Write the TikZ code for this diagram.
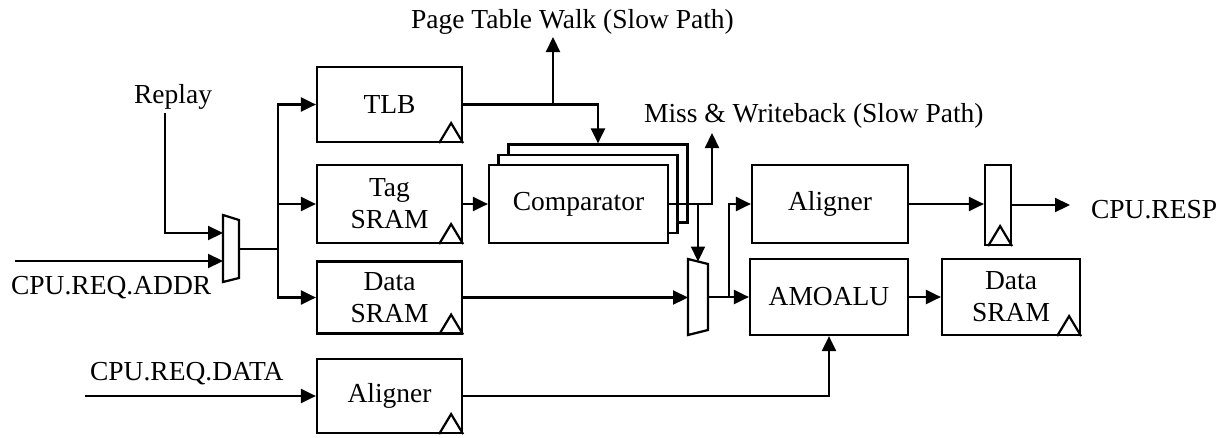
\documentclass[tikz,border=0pt]{standalone}
\usepackage{fontspec}
\setmainfont{Liberation Serif}
\usetikzlibrary{arrows.meta}
\begin{document}
\begin{tikzpicture}[x=1pt,y=-1pt,line width=2.2pt,
  font=\fontsize{27.5}{32}\selectfont,
  blk/.style={draw,rectangle,inner sep=0pt,align=center,fill=white},
  arr/.style={-{Triangle[length=15pt,width=14pt]}},
  lbl/.style={anchor=base west,inner sep=0pt}]
\useasboundingbox (0,0) rectangle (1227,437);

% clock marker in the lower right corner of a block
\newcommand\clockmark[1]{\draw[shift={(#1.south east)}] (-24,0) -- (-12,-20) -- (0,0);}

% --- blocks ---
\node[blk,minimum width=145pt,minimum height=75pt] (tlb) at (389.5,104.5) {TLB};
\node[blk,minimum width=145pt,minimum height=78pt] (tag) at (389.5,204) {Tag\\SRAM};
\node[blk,minimum width=145pt,minimum height=72pt] (dsram) at (389.5,297.5) {Data\\SRAM};
\node[blk,minimum width=145pt,minimum height=74pt] (alnin) at (389.5,396) {Aligner};

\node[blk,minimum width=179pt,minimum height=78pt] (cmp3) at (598,183.5) {};
\node[blk,minimum width=179pt,minimum height=78pt] (cmp2) at (588,194) {};
\node[blk,minimum width=179pt,minimum height=78pt] (cmp1) at (578.5,204) {Comparator};

\node[blk,minimum width=156pt,minimum height=78pt] (alnout) at (830,204) {Aligner};
\node[blk,minimum width=26pt,minimum height=80pt] (reg) at (998,205) {};
\node[blk,minimum width=158pt,minimum height=76pt] (amo) at (829,297) {AMOALU};
\node[blk,minimum width=138pt,minimum height=76pt] (dsram2) at (1011,297) {Data\\SRAM};

\clockmark{tlb}
\clockmark{tag}
\clockmark{dsram}
\clockmark{alnin}
\clockmark{dsram2}
\clockmark{reg}

% --- multiplexers ---
\draw (223,215) -- (239,220) -- (239,278) -- (223,282) -- cycle;
\coordinate (m1a) at (223,233);
\coordinate (m1b) at (223,261);
\coordinate (m1o) at (239,249);
\coordinate (br1) at (278,249);

\draw (688,259) -- (708,264) -- (708,330) -- (688,335) -- cycle;
\coordinate (m2in) at (688,297.5);
\coordinate (m2top) at (698,261.5);
\coordinate (m2o) at (708,297);
\coordinate (br2) at (729,297);

% --- labels ---
\node[lbl] (ptwl) at (410,28) {Page Table Walk (Slow Path)};
\node[lbl] (missl) at (643,122) {Miss \& Writeback (Slow Path)};
\node[lbl] (rpl) at (133,103) {Replay};
\node[lbl] (addrl) at (10,294) {CPU.REQ.ADDR};
\node[lbl] (datal) at (89,380) {CPU.REQ.DATA};
\node[lbl] (respl) at (1090,218) {CPU.RESP};

\coordinate (rp) at (165,113);
\coordinate (addr) at (15,261);
\coordinate (data) at (85,396);
\coordinate (ptw) at (553,37);
\coordinate (miss) at (712,133);
\coordinate (resp) at (1070,205);

% --- connections ---
\draw[arr] (rp) |- (m1a);
\draw[arr] (addr) -- (m1b);
\draw (m1o) -- (br1);
\draw[arr] (br1) |- (tlb.west);
\draw[arr] (br1) |- (tag.west);
\draw[arr] (br1) |- (dsram.west);

\draw[arr] (tlb.east) -| (cmp3.north);
\draw[arr] (tlb.east -| ptw) -- (ptw);
\draw[arr] (tag.east) -- (cmp1.west);
\draw[arr] (cmp1.east) -| (miss);
\draw[arr] (cmp1.east -| m2top) -- (m2top);

\draw[arr] (dsram.east) -- (dsram.east -| m2in);
\draw[arr] (m2o) -- (amo.west |- m2o);
\draw[arr] (br2) |- (alnout.west);
\draw[arr] (alnout.east) -- (alnout.east -| reg.west);
\draw[arr] (reg.east |- resp) -- (resp);
\draw[arr] (amo.east) -- (dsram2.west);

\draw[arr] (data) -- (alnin.west);
\draw[arr] (alnin.east) -| (amo.south);
\end{tikzpicture}
\end{document}
